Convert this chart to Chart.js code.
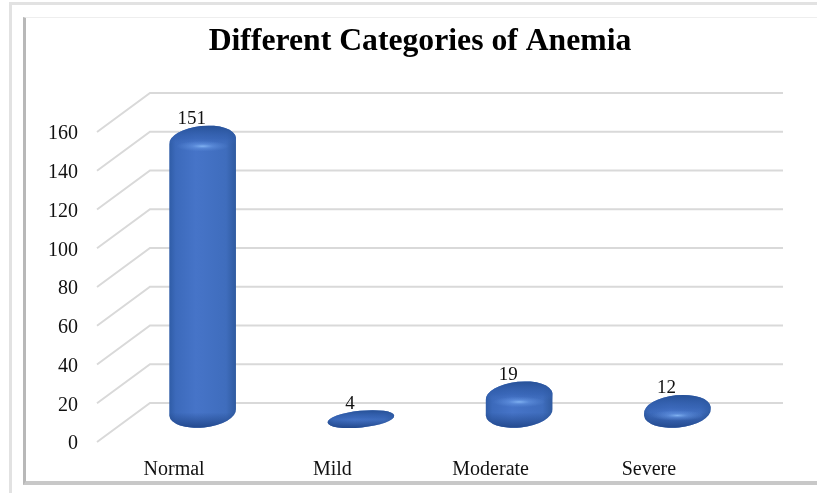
<!DOCTYPE html>
<html>
<head>
<meta charset="utf-8">
<style>
  html, body { margin: 0; padding: 0; background: #fff; overflow: hidden; }
  #wrap { position: absolute; left: 0; top: 0; width: 817px; height: 493px; overflow: hidden; }
  #outer { position: absolute; left: 9px; top: 2px; width: 820px; height: 500px; border: 3px solid #e2e2e2; }
  #frame { position: absolute; left: 23px; top: 17px; width: 791px; height: 463px; background: #fff;
           border-top: 1px solid #eeeeee; border-left: 3px solid #b8b8b8; border-right: 2px solid #ababab; border-bottom: 4px solid #c8c8c8; }
  #chart { position: absolute; left: 0; top: 0; }
</style>
</head>
<body>
<div id="wrap">
  <div id="outer"></div>
  <div id="frame"></div>
  <canvas id="chart" width="817" height="493"></canvas>
</div>
<script src="https://cdn.jsdelivr.net/npm/chart.js@4"></script>
<script>
const categories = ['Normal', 'Mild', 'Moderate', 'Severe'];
const counts = [151, 4, 19, 12];
const yTicks = [0, 20, 40, 60, 80, 100, 120, 140, 160];
const chartTitle = 'Different Categories of Anemia';

const FONT = "'Liberation Serif', 'Times New Roman', serif";
// floor depth of the fake 3D box, in px
const DEPTH_X = 53;
const DEPTH_Y = -39;

// back wall + slanted side wall gridlines
const wallGrid = {
    id: 'wallGrid',
    beforeDatasetsDraw(chart) {
        const { ctx, scales: { x, y } } = chart;
        ctx.save();
        ctx.strokeStyle = '#d9d9d9';
        ctx.lineWidth = 2;
        yTicks.forEach(v => {
            const py = y.getPixelForValue(v);
            ctx.beginPath();
            ctx.moveTo(x.left, py);
            ctx.lineTo(x.left + DEPTH_X, py + DEPTH_Y);
            ctx.lineTo(x.right + DEPTH_X, py + DEPTH_Y);
            ctx.stroke();
        });
        ctx.restore();
    }
};

// title is centred on the frame, not on the plot area
const frameTitle = {
    id: 'frameTitle',
    afterDraw(chart) {
        const { ctx } = chart;
        ctx.save();
        ctx.font = 'bold 31.7px ' + FONT;
        ctx.fillStyle = '#000';
        ctx.textAlign = 'center';
        ctx.textBaseline = 'alphabetic';
        ctx.fillText(chartTitle, 420, 50);
        ctx.restore();
    }
};

function drawCylinder(ctx, cx, top, bottom, rx) {
    const tilt = -0.1;
    const ry = Math.min(15, (bottom - top) / 2);
    const topC = top + ry;
    const botC = bottom - ry;
    const sx = rx * Math.cos(tilt), sy = rx * Math.sin(tilt);

    ctx.save();
    // silhouette
    ctx.beginPath();
    ctx.ellipse(cx, topC, rx, ry, tilt, Math.PI, Math.PI * 2);
    ctx.lineTo(cx + sx, botC + sy);
    ctx.ellipse(cx, botC, rx, ry, tilt, 0, Math.PI);
    ctx.closePath();
    ctx.clip();

    const body = ctx.createLinearGradient(cx - rx, 0, cx + rx, 0);
    body.addColorStop(0, '#2f5ca6');
    body.addColorStop(0.1, '#3c6abb');
    body.addColorStop(0.4, '#4674c8');
    body.addColorStop(0.85, '#3f6dbd');
    body.addColorStop(1, '#2f5a9f');
    ctx.fillStyle = body;
    ctx.fillRect(cx - rx - 2, top - 2, rx * 2 + 4, bottom - top + 4);

    // bottom rim, darker
    const rim = ctx.createLinearGradient(0, bottom - ry, 0, bottom);
    rim.addColorStop(0, 'rgba(34,72,140,0)');
    rim.addColorStop(1, 'rgba(34,72,140,0.95)');
    ctx.fillStyle = rim;
    ctx.fillRect(cx - rx - 2, bottom - ry, rx * 2 + 4, ry + 2);

    // top cap, darker at the far edge
    const cap = ctx.createLinearGradient(0, top, 0, top + ry * 1.2);
    cap.addColorStop(0, 'rgba(38,80,150,0.95)');
    cap.addColorStop(0.7, 'rgba(50,95,175,0.55)');
    cap.addColorStop(1, 'rgba(60,105,185,0)');
    ctx.fillStyle = cap;
    ctx.fillRect(cx - rx - 2, top - 2, rx * 2 + 4, ry * 1.2 + 2);

    // soft highlight under the cap, flat discs don't show it
    if (ry > 12) {
        ctx.translate(cx, top + ry * 1.35);
        ctx.scale(1, 0.2);
        const glow = ctx.createRadialGradient(0, 0, 0, 0, 0, rx * 0.8);
        glow.addColorStop(0, 'rgba(140,190,250,0.85)');
        glow.addColorStop(0.4, 'rgba(110,160,235,0.45)');
        glow.addColorStop(1, 'rgba(100,150,225,0)');
        ctx.fillStyle = glow;
        ctx.beginPath();
        ctx.arc(0, 0, rx * 0.8, 0, Math.PI * 2);
        ctx.fill();
    }
    ctx.restore();
}

// bars come from the bar controller, only their look is replaced here
const cylinders = {
    id: 'cylinders',
    afterDatasetsDraw(chart) {
        const { ctx } = chart;
        const meta = chart.getDatasetMeta(0);
        ctx.save();
        ctx.font = '19px ' + FONT;
        ctx.textAlign = 'center';
        meta.data.forEach((bar, i) => {
            const cx = bar.x + DEPTH_X / 2;
            const top = bar.y + DEPTH_Y / 2 - 4;
            const bottom = bar.base + DEPTH_Y / 2 + 5;
            drawCylinder(ctx, cx, top, bottom, bar.width / 2);
            ctx.fillStyle = '#111';
            ctx.fillText(String(counts[i]), cx - 11, top - 2);
        });
        ctx.restore();
    }
};

new Chart(document.getElementById('chart'), {
    type: 'bar',
    data: {
        labels: categories,
        datasets: [{
            data: counts,
            backgroundColor: 'rgba(0,0,0,0)',
            barThickness: 67
        }]
    },
    options: {
        responsive: false,
        animation: false,
        layout: { padding: { left: 37, right: 87, top: 132, bottom: 3 } },
        scales: {
            x: {
                grid: { display: false },
                border: { display: false },
                ticks: { color: '#111', font: { family: FONT, size: 20 }, padding: 8, maxRotation: 0, labelOffset: -2 }
            },
            y: {
                min: 0,
                max: 160,
                afterBuildTicks(axis) { axis.ticks = yTicks.map(v => ({ value: v })); },
                grid: { display: false },
                border: { display: false },
                ticks: { color: '#111', font: { family: FONT, size: 20 }, padding: 11, labelOffset: 2 }
            }
        },
        plugins: {
            legend: { display: false },
            tooltip: { enabled: false }
        }
    },
    plugins: [wallGrid, cylinders, frameTitle]
});
</script>
</body>
</html>
